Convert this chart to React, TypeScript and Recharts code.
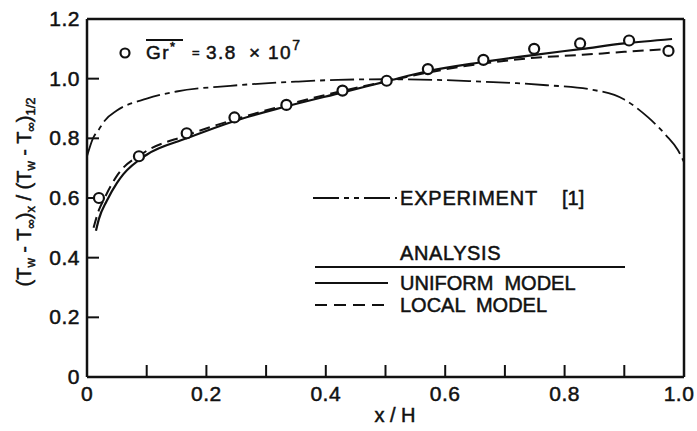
import React from "react";
import {
  ComposedChart,
  Line,
  Scatter,
  XAxis,
  YAxis,
  ReferenceLine,
} from "recharts";

// experiment [1], dash-dot curve
const expX = [0, 0.01, 0.02, 0.03, 0.05, 0.1, 0.15, 0.24, 0.35, 0.42, 0.5, 0.6, 0.66, 0.72, 0.77, 0.84, 0.9, 0.94, 0.97, 0.99, 1.0];
const expY = [0.74, 0.8, 0.83, 0.86, 0.893, 0.933, 0.957, 0.976, 0.99, 0.996, 0.998, 0.995, 0.99, 0.985, 0.978, 0.965, 0.93, 0.87, 0.81, 0.76, 0.72];

// analysis, uniform model (solid)
const uniX = [0.015, 0.02, 0.033, 0.05, 0.061, 0.1, 0.167, 0.25, 0.33, 0.43, 0.5, 0.57, 0.66, 0.75, 0.83, 0.9, 0.98];
const uniY = [0.49, 0.53, 0.59, 0.65, 0.68, 0.745, 0.8, 0.86, 0.905, 0.955, 0.99, 1.025, 1.055, 1.08, 1.1, 1.118, 1.133];

// analysis, local model (dashed)
const locX = [0.011, 0.02, 0.027, 0.052, 0.092, 0.167, 0.25, 0.33, 0.43, 0.5, 0.57, 0.66, 0.75, 0.83, 0.9, 0.98];
const locY = [0.5, 0.56, 0.59, 0.68, 0.748, 0.81, 0.865, 0.91, 0.96, 0.99, 1.02, 1.05, 1.07, 1.08, 1.09, 1.1];

// measured points, Gr* = 3.8e7
const ptX = [0.02, 0.087, 0.167, 0.247, 0.334, 0.428, 0.502, 0.571, 0.664, 0.749, 0.826, 0.908, 0.974];
const ptY = [0.6, 0.74, 0.817, 0.87, 0.912, 0.96, 0.993, 1.032, 1.063, 1.1, 1.118, 1.128, 1.093];

const xTicks = [0, 0.1, 0.2, 0.3, 0.4, 0.5, 0.6, 0.7, 0.8, 0.9, 1.0];
const yTicks = [0, 0.2, 0.4, 0.6, 0.8, 1.0, 1.2];

const zip = (xs: number[], ys: number[]) => xs.map((x, i) => ({ x, y: ys[i] }));
const expData = zip(expX, expY);
const uniData = zip(uniX, uniY);
const locData = zip(locX, locY);
const ptData = zip(ptX, ptY);

const FONT = "'Liberation Sans', Arial, sans-serif";
const INK = "#111";
const pre = { whiteSpace: "pre" as const };

const fmtY = (v: number) => (v === 0 ? "0" : v.toFixed(1));

// x ticks every 0.1, labels only every 0.2
function XTick(props: any) {
  const { x, y, payload } = props;
  const k = Math.round(payload.value * 10);
  if (k % 2 !== 0) return null;
  const label = k === 0 ? "0" : payload.value.toFixed(1);
  const dx = k === 10 ? -5 : 0;
  return (
    <text x={x + dx} y={y} dy={16} textAnchor="middle" fontSize={21} fontFamily={FONT}
      fill={INK} stroke={INK} strokeWidth={0.5} letterSpacing={0.5}>
      {label}
    </text>
  );
}

function YTick(props: any) {
  const { x, y, payload } = props;
  return (
    <text x={x} y={y} dy={7} textAnchor="end" fontSize={21} fontFamily={FONT}
      fill={INK} stroke={INK} strokeWidth={0.5} letterSpacing={0.5}>
      {fmtY(payload.value)}
    </text>
  );
}

function Circle(props: any) {
  const { cx, cy } = props;
  return <circle cx={cx} cy={cy} r={5} fill="#fff" stroke={INK} strokeWidth={2.2} />;
}

function Overlay() {
  const sub = 13;
  return (
    <svg
      width={697}
      height={431}
      style={{ position: "absolute", left: 0, top: 0, pointerEvents: "none" }}
      fontFamily={FONT}
      fill={INK}
      stroke={INK}
    >
      {/* y axis label */}
      <text transform="translate(31, 192) rotate(-90)" textAnchor="middle" fontSize={20} strokeWidth={0.5} style={pre}>
        (T<tspan fontSize={sub} dy={4}>w</tspan>
        <tspan dy={-4}> - T</tspan>
        <tspan fontSize={sub} dy={4}>∞</tspan>
        <tspan dy={-4}>)</tspan>
        <tspan fontSize={sub} dy={4}>x</tspan>
        <tspan dy={-4}> / (T</tspan>
        <tspan fontSize={sub} dy={4}>w</tspan>
        <tspan dy={-4}> - T</tspan>
        <tspan fontSize={sub} dy={4}>∞</tspan>
        <tspan dy={-4}>)</tspan>
        <tspan fontSize={sub} dy={4}>1/2</tspan>
      </text>
      {/* x axis label */}
      <text x={395} y={422} textAnchor="middle" fontSize={20} strokeWidth={0.5} style={pre}>x / H</text>

      {/* Gr* key */}
      <circle cx={125} cy={53} r={4.5} fill="none" strokeWidth={2.2} />
      <line x1={146} x2={183} y1={40} y2={40} strokeWidth={1.8} />
      <g fontSize={19} strokeWidth={0.5} letterSpacing={1.5}>
        <text x={146} y={59}>Gr<tspan fontSize={13} dy={-8}>*</tspan></text>
        <text x={192} y={57} fontSize={13}>=</text>
        <text x={206} y={59}>3.8</text>
        <text x={249} y={59}>×</text>
        <text x={268} y={59}>10<tspan fontSize={14} dy={-9}>7</tspan></text>
      </g>

      {/* experiment key */}
      <line x1={313} x2={397} y1={198} y2={198} strokeWidth={1.8} strokeDasharray="26 5 5 5 5 5" />
      <text x={400} y={205} fontSize={20} strokeWidth={0.5} letterSpacing={0.8}>EXPERIMENT</text>
      <text x={562} y={205} fontSize={20} strokeWidth={0.5}>[1]</text>

      {/* analysis key */}
      <text x={400} y={260} fontSize={20} strokeWidth={0.5} letterSpacing={0.6}>ANALYSIS</text>
      <line x1={315} x2={625} y1={267} y2={267} strokeWidth={2} />
      <line x1={315} x2={388} y1={283} y2={283} strokeWidth={2} />
      <text x={400} y={290} fontSize={20} strokeWidth={0.5} style={pre}>UNIFORM  MODEL</text>
      <line x1={315} x2={388} y1={305} y2={305} strokeWidth={2} strokeDasharray="12 7" />
      <text x={400} y={312} fontSize={20} strokeWidth={0.5} style={pre}>LOCAL  MODEL</text>
    </svg>
  );
}

export default function App() {
  return (
    <div style={{ position: "absolute", left: 0, top: 0, width: 697, height: 431, background: "#fff" }}>
      <ComposedChart
        width={697}
        height={431}
        margin={{ top: 19, right: 13, bottom: 24, left: 27 }}
      >
        <XAxis
          dataKey="x"
          type="number"
          domain={[0, 1]}
          ticks={xTicks}
          height={30}
          tickSize={-12}
          tickMargin={20}
          axisLine={{ stroke: INK, strokeWidth: 2.5 }}
          tickLine={{ stroke: INK, strokeWidth: 2 }}
          tick={<XTick />}
          interval={0}
        />
        <YAxis
          dataKey="y"
          type="number"
          domain={[0, 1.2]}
          ticks={yTicks}
          width={60}
          tickSize={-12}
          tickMargin={19}
          axisLine={{ stroke: INK, strokeWidth: 2.5 }}
          tickLine={{ stroke: INK, strokeWidth: 2 }}
          tick={<YTick />}
          interval={0}
        />
        <ReferenceLine y={1.2} stroke={INK} strokeWidth={2.5} />
        <ReferenceLine x={1.0} stroke={INK} strokeWidth={2.5} />
        <Line
          data={expData}
          dataKey="y"
          type="monotone"
          stroke={INK}
          strokeWidth={1.8}
          strokeDasharray="24 5 5 5"
          dot={false}
          isAnimationActive={false}
        />
        <Line
          data={uniData}
          dataKey="y"
          type="monotone"
          stroke={INK}
          strokeWidth={2.2}
          dot={false}
          isAnimationActive={false}
        />
        <Line
          data={locData}
          dataKey="y"
          type="monotone"
          stroke={INK}
          strokeWidth={2}
          strokeDasharray="11 6"
          dot={false}
          isAnimationActive={false}
        />
        <Scatter data={ptData} dataKey="y" shape={<Circle />} isAnimationActive={false} />
      </ComposedChart>
      <Overlay />
    </div>
  );
}
